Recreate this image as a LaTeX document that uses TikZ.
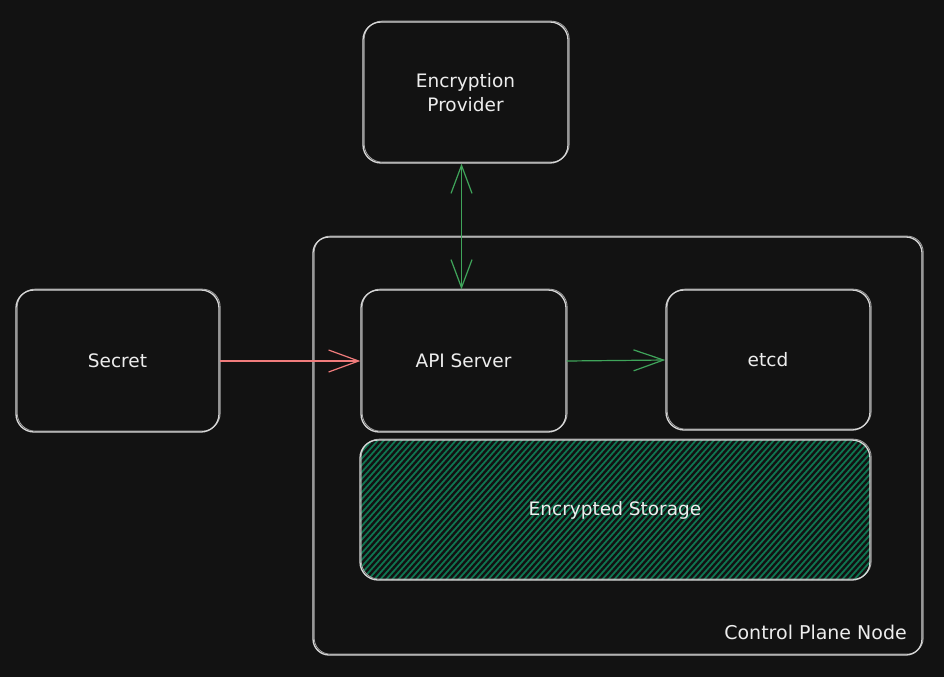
\documentclass[tikz,border=0pt]{standalone}
\usepackage{fontspec}
\setmainfont{DejaVu Sans}
\usetikzlibrary{arrows.meta}
\definecolor{bgc}{HTML}{121212}
\definecolor{boxc}{HTML}{D6D6D6}
\definecolor{txtc}{HTML}{EDEDED}
\definecolor{redc}{HTML}{F07C7C}
\definecolor{grnc}{HTML}{3FA45A}
\definecolor{hatchc}{HTML}{0F7450}
\tikzset{
  sbox/.style={draw=boxc, line width=1.3pt, rounded corners=18pt, fill=none,
    text=txtc, font=\fontsize{18.5}{24}\selectfont, align=center, inner sep=0pt,
    preaction={draw=boxc!75!bgc, line width=0.8pt, transform canvas={xshift=1.2pt,yshift=0.9pt}}},
  bigbox/.style={sbox, rounded corners=16pt},
  redarrow/.style={draw=redc, line width=1.2pt, -{Straight Barb[length=30pt,width=22pt,line width=1.2pt]}},
  grnarrow/.style={draw=grnc, line width=1.2pt, -{Straight Barb[length=30pt,width=21pt,line width=1.2pt]}},
  grndbl/.style={draw=grnc, line width=1.2pt, {Straight Barb[length=28pt,width=21pt,line width=1.2pt]}-{Straight Barb[length=28pt,width=21pt,line width=1.2pt]}},
  lbl/.style={text=txtc, font=\fontsize{19}{22}\selectfont, inner sep=0pt}
}
\begin{document}
\begin{tikzpicture}[x=1pt,y=-1pt]
\useasboundingbox (0,0) rectangle (944,677);
\fill[bgc] (0,0) rectangle (944,677);
% hatched storage
\begin{scope}
  \clip[rounded corners=18pt] (360,440) rectangle (870,580);
  \foreach \i in {200,206,...,900} \draw[hatchc, line width=1.8pt] (\i,600) -- ++(160,-180);
\end{scope}
\node[bigbox, minimum width=609pt, minimum height=418pt] (cpn) at (617.5,446) {};
\node[sbox, minimum width=205pt, minimum height=141pt] (prov) at (465.5,92.5) {Encryption\\Provider};
\node[sbox, minimum width=203pt, minimum height=142pt] (secret) at (117.5,361) {Secret};
\node[sbox, minimum width=205pt, minimum height=142pt] (api) at (463.5,361) {API Server};
\node[sbox, minimum width=204pt, minimum height=140pt] (etcd) at (768,360) {etcd};
\node[sbox, minimum width=510pt, minimum height=140pt] (store) at (615,510) {Encrypted Storage};
\node[lbl, anchor=east] (cpnlbl) at (907,632) {Control Plane Node};
\draw[redarrow] (secret.east) -- (api.west);
\draw[grndbl] ([xshift=-4pt]prov.south) -- ([xshift=-2pt]api.north);
\draw[grnarrow] (api.east) -- (etcd.west);
\end{tikzpicture}
\end{document}
